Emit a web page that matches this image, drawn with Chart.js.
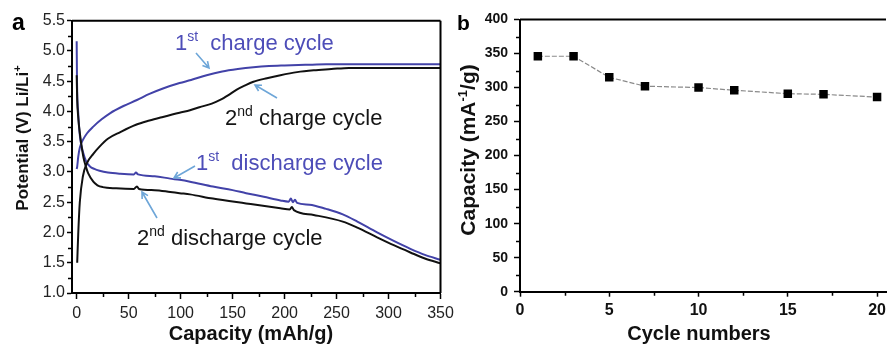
<!DOCTYPE html>
<html>
<head>
<meta charset="utf-8">
<script src="https://cdn.jsdelivr.net/npm/chart.js@4.4.1/dist/chart.umd.min.js"></script>
<style>
  html, body { margin: 0; padding: 0; background: #fff; overflow: hidden; width: 887px; height: 346px; position: relative; }
  canvas { position: absolute; top: 0; }
</style>
</head>
<body>
<canvas id="chartA" width="470" height="346" style="left:0;width:470px;height:346px"></canvas>
<canvas id="chartB" width="450" height="346" style="left:450px;width:450px;height:346px"></canvas>
<script>
// Panel a - charge / discharge curves (capacity mAh/g vs potential V)
const charge1Cap = [0, 0.5, 1.5, 3, 6, 10, 16, 24, 32, 45, 58, 70, 83, 99, 110, 125, 140, 155, 170, 185, 200, 220, 240, 270, 300, 330, 350];
const charge1V   = [3.05, 3.09, 3.25, 3.4, 3.53, 3.64, 3.75, 3.87, 3.97, 4.09, 4.19, 4.29, 4.38, 4.47, 4.52, 4.6, 4.66, 4.7, 4.73, 4.75, 4.76, 4.77, 4.78, 4.78, 4.78, 4.78, 4.78];

const charge2Cap = [0.5, 1.5, 3, 6, 10, 16, 22, 30, 42, 57, 70, 83, 99, 109, 118, 130, 138, 146, 154, 162, 170, 183, 196, 212, 228, 245, 262, 290, 320, 350];
const charge2V   = [1.5, 1.98, 2.5, 2.93, 3.15, 3.3, 3.42, 3.55, 3.66, 3.78, 3.85, 3.91, 3.98, 4.02, 4.07, 4.13, 4.19, 4.27, 4.36, 4.43, 4.49, 4.55, 4.6, 4.65, 4.68, 4.7, 4.72, 4.72, 4.72, 4.72];

const discharge1Cap = [0, 0.3, 1.5, 3.2, 6.4, 9, 12.8, 17, 22, 30, 42, 55, 57, 59, 75, 90, 99, 109, 131, 150, 163, 180, 196, 204, 206, 208, 210, 212, 224, 240, 256, 270, 289, 305, 321, 335, 350];
const discharge1V   = [5.16, 4.52, 3.97, 3.58, 3.31, 3.18, 3.09, 3.05, 3.02, 2.99, 2.97, 2.96, 2.99, 2.96, 2.93, 2.89, 2.87, 2.84, 2.76, 2.7, 2.65, 2.59, 2.53, 2.51, 2.56, 2.5, 2.54, 2.49, 2.46, 2.39, 2.3, 2.18, 2.0, 1.86, 1.73, 1.63, 1.55];

const discharge2Cap = [0, 0.5, 1.5, 3.2, 6.4, 9, 11, 16, 20, 25, 38, 55, 58, 60, 75, 90, 99, 109, 131, 163, 196, 205, 207, 209, 228, 256, 270, 289, 305, 321, 335, 350];
const discharge2V   = [4.6, 4.2, 3.9, 3.62, 3.25, 3.08, 2.98, 2.84, 2.78, 2.75, 2.73, 2.72, 2.76, 2.72, 2.7, 2.67, 2.65, 2.63, 2.56, 2.48, 2.4, 2.38, 2.42, 2.37, 2.29, 2.18, 2.08, 1.92, 1.79, 1.67, 1.57, 1.49];

const aXTicks = [0, 50, 100, 150, 200, 250, 300, 350];
const aYTicks = [1.0, 1.5, 2.0, 2.5, 3.0, 3.5, 4.0, 4.5, 5.0, 5.5];

// Panel b - capacity vs cycle number
const cycleNum = [1, 3, 5, 7, 10, 12, 15, 17, 20];
const cycleCap = [346, 346, 315, 302, 300, 296, 291, 290, 286];

const bXTicks = [0, 5, 10, 15, 20];
const bYTicks = [0, 50, 100, 150, 200, 250, 300, 350, 400];

const FONT = "'Liberation Sans', Arial, Helvetica, sans-serif";
const BLUE = '#4242a8';
const BLUE_TEXT = '#4d4db8';
const ARROW = '#6ea6d8';
const BLACK = '#111';

// midpoints between major ticks -> minor tick marks
const mids = arr => arr.slice(1).map((v, i) => (v + arr[i]) / 2);

// text with superscript parts: parts = [[text, isSup], ...]
function richText(ctx, parts, x, y, o) {
  const size = o.size, weight = o.weight || 'normal';
  const supSize = Math.round(size * 0.62);
  const widths = parts.map(p => {
    ctx.font = weight + ' ' + (p[1] ? supSize : size) + 'px ' + FONT;
    return ctx.measureText(p[0]).width;
  });
  const total = widths.reduce((a, b) => a + b, 0);
  ctx.save();
  ctx.translate(x, y);
  if (o.rotate) ctx.rotate(o.rotate);
  let cx = o.align === 'center' ? -total / 2 : 0;
  ctx.fillStyle = o.color;
  ctx.textBaseline = 'alphabetic';
  ctx.textAlign = 'left';
  parts.forEach((p, i) => {
    ctx.font = weight + ' ' + (p[1] ? supSize : size) + 'px ' + FONT;
    ctx.fillText(p[0], cx, p[1] ? -size * 0.4 : 0);
    cx += widths[i];
  });
  ctx.restore();
}

function arrow(ctx, x1, y1, x2, y2) {
  const ang = Math.atan2(y2 - y1, x2 - x1), h = 7;
  ctx.beginPath();
  ctx.moveTo(x1, y1); ctx.lineTo(x2, y2);
  ctx.moveTo(x2 - h * Math.cos(ang - 0.5), y2 - h * Math.sin(ang - 0.5));
  ctx.lineTo(x2, y2);
  ctx.lineTo(x2 - h * Math.cos(ang + 0.5), y2 - h * Math.sin(ang + 0.5));
  ctx.stroke();
}

// box on top/right + minor ticks + extra drawing
function makeFrame(minorX, minorY, drawRight, extra) {
  return {
    id: 'frame',
    afterDraw(chart) {
      const { ctx, chartArea: a, scales } = chart;
      ctx.save();
      ctx.strokeStyle = '#000';
      ctx.lineWidth = 2;
      ctx.beginPath();
      ctx.moveTo(a.left, a.top); ctx.lineTo(a.right, a.top);
      if (drawRight) { ctx.moveTo(a.right, a.top); ctx.lineTo(a.right, a.bottom); }
      ctx.stroke();
      ctx.lineWidth = 1.5;
      ctx.beginPath();
      minorX.forEach(v => {
        const px = Math.round(scales.x.getPixelForValue(v)) + 0.5;
        ctx.moveTo(px, a.bottom); ctx.lineTo(px, a.bottom + 4);
      });
      minorY.forEach(v => {
        const py = Math.round(scales.y.getPixelForValue(v)) + 0.5;
        ctx.moveTo(a.left, py); ctx.lineTo(a.left - 4, py);
      });
      ctx.stroke();
      ctx.restore();
      extra(ctx);
    }
  };
}

function curve(xs, ys, color) {
  return {
    data: xs.map((x, i) => ({ x: x, y: ys[i] })),
    showLine: true,
    borderColor: color,
    borderWidth: 2,
    pointRadius: 0,
    cubicInterpolationMode: 'monotone',
    fill: false
  };
}

function axisStyle(tickLen) {
  return {
    grid: { display: true, drawOnChartArea: false, drawTicks: true, tickLength: tickLen, tickWidth: 1.5, tickColor: '#000' },
    border: { display: true, color: '#000', width: 2 }
  };
}

// ---- panel a ----
new Chart(document.getElementById('chartA'), {
  type: 'scatter',
  data: {
    datasets: [
      curve(discharge2Cap, discharge2V, BLACK),
      curve(charge2Cap, charge2V, BLACK),
      curve(discharge1Cap, discharge1V, BLUE),
      curve(charge1Cap, charge1V, BLUE)
    ]
  },
  options: {
    responsive: false,
    animation: false,
    devicePixelRatio: 1,
    layout: { padding: { top: 20.7, right: 29.5, left: 0, bottom: 0 } },
    plugins: { legend: { display: false }, tooltip: { enabled: false } },
    scales: {
      x: Object.assign(axisStyle(6), {
        type: 'linear', min: -4.5, max: 350,
        afterBuildTicks: s => { s.ticks = aXTicks.map(v => ({ value: v })); },
        afterFit: s => { s.height = 53; },
        ticks: { font: { family: FONT, size: 16 }, color: '#222', padding: 5, maxRotation: 0, autoSkip: false }
      }),
      y: Object.assign(axisStyle(5), {
        type: 'linear', min: 1, max: 5.5,
        afterBuildTicks: s => { s.ticks = aYTicks.map(v => ({ value: v })); },
        afterFit: s => { s.width = 72; },
        ticks: { font: { family: FONT, size: 16 }, color: '#222', padding: 2, autoSkip: false, callback: v => Number(v).toFixed(1) }
      })
    }
  },
  plugins: [makeFrame(mids(aXTicks), mids(aYTicks), true, ctx => {
    richText(ctx, [['a', false]], 12, 30, { size: 23, weight: 'bold', color: '#000' });
    richText(ctx, [['Capacity (mAh/g)', false]], 251, 340, { size: 20, weight: 'bold', color: '#111', align: 'center' });
    richText(ctx, [['Potential (V) Li/Li', false], ['+', true]], 28, 138, { size: 17, weight: 'bold', color: '#111', align: 'center', rotate: -Math.PI / 2 });

    richText(ctx, [['1', false], ['st', true], ['  charge cycle', false]], 175, 50, { size: 22, color: BLUE_TEXT });
    richText(ctx, [['2', false], ['nd', true], [' charge cycle', false]], 225, 125, { size: 22, color: '#151515' });
    richText(ctx, [['1', false], ['st', true], ['  discharge cycle', false]], 196, 170, { size: 22, color: BLUE_TEXT });
    richText(ctx, [['2', false], ['nd', true], [' discharge cycle', false]], 137, 245, { size: 22, color: '#151515' });

    ctx.save();
    ctx.strokeStyle = ARROW;
    ctx.lineWidth = 1.6;
    arrow(ctx, 196, 53, 209, 68);
    arrow(ctx, 277, 98, 255, 85);
    arrow(ctx, 195, 166, 174, 178);
    arrow(ctx, 157, 218, 142, 192);
    ctx.restore();
  })]
});

// ---- panel b ----
new Chart(document.getElementById('chartB'), {
  type: 'scatter',
  data: {
    datasets: [{
      data: cycleNum.map((c, i) => ({ x: c, y: cycleCap[i] })),
      showLine: true,
      borderColor: '#8a8a8a',
      borderWidth: 1.2,
      borderDash: [5, 2],
      pointStyle: 'rect',
      pointRadius: 6,
      pointBackgroundColor: '#000',
      pointBorderColor: '#000',
      pointBorderWidth: 0
    }]
  },
  options: {
    responsive: false,
    animation: false,
    devicePixelRatio: 1,
    layout: { padding: { top: 19.5, right: 14, left: 0, bottom: 0 } },
    plugins: { legend: { display: false }, tooltip: { enabled: false } },
    scales: {
      x: Object.assign(axisStyle(5), {
        type: 'linear', min: 0, max: 20.5,
        afterBuildTicks: s => { s.ticks = bXTicks.map(v => ({ value: v })); },
        afterFit: s => { s.height = 54.3; },
        ticks: { font: { family: FONT, size: 16, weight: 'bold' }, color: '#111', padding: 4, maxRotation: 0, autoSkip: false }
      }),
      y: Object.assign(axisStyle(6), {
        type: 'linear', min: 0, max: 400,
        afterBuildTicks: s => { s.ticks = bYTicks.map(v => ({ value: v })); },
        afterFit: s => { s.width = 70; },
        ticks: { font: { family: FONT, size: 14, weight: 'bold' }, color: '#111', padding: 6, autoSkip: false }
      })
    }
  },
  plugins: [makeFrame(mids(bXTicks), mids(bYTicks), false, ctx => {
    richText(ctx, [['b', false]], 7, 30, { size: 21, weight: 'bold', color: '#000' });
    richText(ctx, [['Cycle numbers', false]], 249, 340, { size: 20, weight: 'bold', color: '#111', align: 'center' });
    richText(ctx, [['Capacity (mA', false], ['-1', true], ['/g)', false]], 25, 150, { size: 21, weight: 'bold', color: '#111', align: 'center', rotate: -Math.PI / 2 });
  })]
});
</script>
</body>
</html>
